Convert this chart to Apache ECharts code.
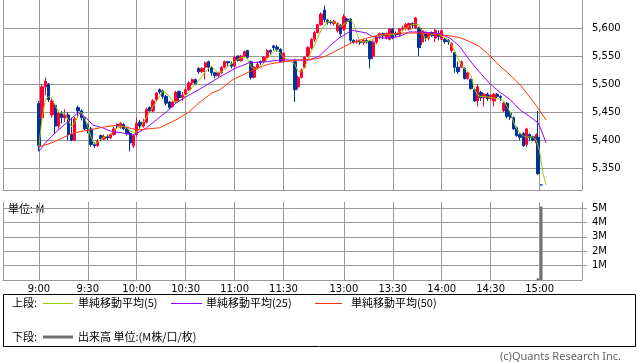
<!DOCTYPE html>
<html><head><meta charset="utf-8">
<script src="https://cdn.jsdelivr.net/npm/echarts@6/dist/echarts.min.js"></script>
<style>html,body{margin:0;padding:0;background:#fff}#c{width:638px;height:362px}</style>
</head><body><div id="c"></div>
<script>
// ---- tick labels ----
const tickLabels = ['9:00','9:30','10:00','10:30','11:00','11:30','13:00','13:30','14:00','14:30','15:00'];
const priceTicks = [5350,5400,5450,5500,5550,5600];
const volumeTicks = [1,2,3,4,5];

// ---- categories (1-minute slots) ----
const categories = [];
function pushRange(h0,m0,h1,m1){for(let t=h0*60+m0;t<=h1*60+m1;t++){categories.push(Math.floor(t/60)+':'+String(t%60).padStart(2,'0'));}}
pushRange(8,38,11,30);
for(let i=1;i<=6;i++) categories.push('lunch'+i);
pushRange(12,30,15,26);

// ---- candles: [time, open, close, low, high] ----
const candles = [
['9:00',5465,5390,5380,5470],['9:02',5440,5495,5430,5500],['9:04',5495,5505,5480,5512],['9:06',5500,5472,5468,5502],
['9:08',5445,5470,5440,5475],['9:10',5462,5425,5412,5465],['9:12',5425,5448,5420,5452],['9:14',5448,5440,5430,5452],
['9:16',5440,5445,5432,5455],['9:18',5445,5410,5400,5450],['9:20',5410,5400,5398,5440],['9:22',5400,5438,5398,5442],
['9:24',5458,5452,5440,5462],['9:26',5452,5440,5435,5455],['9:28',5440,5420,5418,5442],['9:30',5428,5420,5412,5430],
['9:32',5420,5392,5388,5424],['9:34',5392,5390,5386,5396],['9:36',5390,5398,5388,5402],['9:38',5408,5402,5398,5410],
['9:40',5402,5406,5400,5410],['9:42',5406,5404,5400,5410],['9:44',5404,5410,5402,5412],['9:46',5410,5420,5408,5424],
['9:48',5428,5425,5420,5430],['9:50',5423,5430,5420,5432],['9:52',5428,5420,5418,5430],['9:54',5420,5412,5408,5422],
['9:56',5412,5395,5380,5415],['9:58',5390,5408,5386,5410],['10:00',5410,5430,5406,5440],['10:02',5432,5425,5420,5436],
['10:04',5425,5432,5422,5438],['10:06',5432,5455,5430,5458],['10:08',5458,5452,5448,5460],['10:10',5452,5470,5450,5473],
['10:12',5472,5484,5470,5486],['10:14',5490,5486,5482,5492],['10:16',5488,5478,5474,5490],['10:18',5478,5466,5462,5480],
['10:20',5468,5458,5456,5470],['10:22',5460,5468,5458,5470],['10:24',5468,5485,5466,5488],['10:26',5487,5476,5470,5488],
['10:28',5476,5480,5470,5486],['10:30',5482,5490,5478,5494],['10:32',5490,5502,5488,5505],['10:34',5502,5508,5498,5510],
['10:36',5508,5500,5498,5510],['10:38',5528,5522,5518,5530],['10:40',5522,5528,5520,5530],['10:42',5530,5538,5508,5540],
['10:44',5540,5530,5522,5542],['10:46',5530,5520,5515,5532],['10:48',5520,5515,5510,5522],['10:50',5515,5520,5512,5522],
['10:52',5520,5530,5518,5532],['10:54',5530,5540,5528,5542],['10:56',5540,5538,5532,5541],['10:58',5536,5532,5528,5540],
['11:00',5532,5548,5527,5551],['11:02',5550,5542,5540,5551],['11:04',5542,5550,5540,5552],['11:06',5550,5558,5548,5560],
['11:08',5560,5548,5545,5561],['11:10',5540,5512,5508,5542],['11:12',5512,5530,5510,5532],['11:14',5530,5535,5526,5540],
['11:16',5540,5538,5534,5542],['11:18',5540,5548,5536,5550],['11:20',5548,5560,5546,5562],['11:22',5560,5557,5552,5562],
['11:24',5568,5565,5560,5570],['11:26',5566,5562,5558,5570],['11:28',5562,5540,5538,5564],['11:30',5540,5555,5538,5556],
['12:30',5540,5490,5468,5545],['12:32',5495,5512,5490,5515],['12:34',5512,5525,5510,5528],['12:36',5530,5548,5528,5550],
['12:38',5550,5565,5548,5568],['12:40',5565,5580,5562,5582],['12:42',5580,5592,5575,5595],['12:44',5592,5606,5590,5608],
['12:46',5606,5625,5604,5628],['12:48',5632,5615,5610,5640],['12:50',5614,5610,5606,5616],['12:52',5612,5610,5606,5614],
['12:54',5608,5612,5604,5615],['12:56',5595,5608,5592,5610],['12:58',5605,5590,5585,5607],['13:00',5598,5620,5595,5625],
['13:02',5616,5612,5608,5618],['13:04',5616,5578,5574,5618],['13:06',5578,5575,5572,5580],['13:08',5575,5576,5572,5580],
['13:10',5576,5574,5570,5579],['13:12',5574,5578,5570,5580],['13:14',5578,5575,5572,5580],['13:16',5576,5545,5528,5578],
['13:18',5550,5575,5545,5578],['13:20',5575,5585,5572,5587],['13:22',5585,5590,5580,5592],['13:24',5590,5586,5580,5592],
['13:26',5582,5590,5580,5592],['13:28',5580,5598,5578,5600],['13:30',5598,5582,5580,5600],['13:32',5590,5588,5584,5594],
['13:34',5588,5598,5586,5600],['13:36',5598,5600,5594,5604],['13:38',5600,5606,5596,5609],['13:40',5598,5608,5596,5610],
['13:42',5608,5605,5600,5610],['13:44',5600,5618,5598,5620],['13:46',5600,5565,5550,5602],['13:48',5575,5595,5570,5600],
['13:50',5592,5582,5576,5594],['13:52',5582,5590,5578,5592],['13:54',5592,5586,5584,5594],['13:56',5582,5596,5575,5598],
['13:58',5590,5585,5578,5596],['14:00',5580,5595,5578,5598],['14:02',5580,5576,5572,5582],['14:04',5578,5575,5570,5580],
['14:06',5560,5572,5556,5575],['14:08',5556,5530,5520,5558],['14:10',5530,5522,5518,5540],['14:12',5530,5540,5528,5542],
['14:14',5528,5510,5508,5530],['14:16',5510,5520,5508,5522],['14:18',5508,5492,5490,5510],['14:20',5490,5470,5468,5492],
['14:22',5470,5495,5460,5500],['14:24',5485,5476,5470,5488],['14:26',5476,5482,5460,5484],['14:28',5482,5474,5470,5485],
['14:30',5474,5480,5470,5482],['14:32',5470,5482,5460,5484],['14:34',5482,5478,5474,5484],['14:36',5478,5476,5470,5480],
['14:38',5452,5466,5450,5468],['14:40',5466,5442,5439,5468],['14:42',5448,5440,5436,5452],['14:44',5440,5420,5418,5442],
['14:46',5422,5408,5406,5424],['14:48',5410,5405,5400,5412],['14:50',5412,5390,5388,5414],['14:52',5392,5420,5388,5422],
['14:54',5410,5404,5398,5412],['14:56',5406,5400,5398,5408],['14:58',5395,5410,5392,5412],['14:59',5405,5340,5338,5452],
['15:01',5320,5320,5320,5321]
];

// ---- moving averages: [time, value] ----
const ma5 = [
['9:00',5389],['9:02',5440],['9:04',5472],['9:06',5478],['9:08',5474],['9:10',5462],['9:12',5450],['9:14',5448],
['9:16',5447],['9:18',5436],['9:20',5424],['9:22',5432],['9:24',5443],['9:26',5450],['9:28',5440],['9:30',5424],
['9:32',5405],['9:34',5393],['9:36',5395],['9:38',5402],['9:40',5405],['9:42',5408],['9:44',5411],['9:46',5416],
['9:48',5422],['9:50',5424],['9:52',5424],['9:54',5422],['9:56',5416],['9:58',5414],['10:00',5415],['10:02',5422],
['10:04',5432],['10:06',5441],['10:08',5450],['10:10',5460],['10:12',5468],['10:14',5478],['10:16',5488],['10:18',5484],
['10:20',5478],['10:22',5470],['10:24',5468],['10:26',5470],['10:28',5474],['10:30',5480],['10:32',5486],['10:34',5494],
['10:36',5500],['10:38',5506],['10:40',5514],['10:42',5522],['10:44',5528],['10:46',5531],['10:48',5526],['10:50',5520],
['10:52',5522],['10:54',5526],['10:56',5532],['10:58',5536],['11:00',5540],['11:02',5544],['11:04',5547],['11:06',5548],
['11:08',5545],['11:10',5531],['11:12',5526],['11:14',5527],['11:16',5532],['11:18',5538],['11:20',5545],['11:22',5552],
['11:24',5558],['11:26',5561],['11:28',5555],['11:30',5548],
['12:30',5535],['12:32',5522],['12:34',5522],['12:36',5530],['12:38',5545],['12:40',5558],['12:42',5570],['12:44',5583],
['12:46',5596],['12:48',5604],['12:50',5611],['12:52',5612],['12:54',5610],['12:56',5607],['12:58',5602],['13:00',5606],
['13:02',5612],['13:04',5615],['13:06',5608],['13:08',5590],['13:10',5576],['13:12',5575],['13:14',5576],['13:16',5578],
['13:18',5580],['13:20',5584],['13:22',5586],['13:24',5588],['13:26',5588],['13:28',5588],['13:30',5588],['13:32',5590],
['13:34',5593],['13:36',5596],['13:38',5600],['13:40',5603],['13:42',5606],['13:44',5607],['13:46',5606],['13:48',5593],
['13:50',5580],['13:52',5584],['13:54',5588],['13:56',5590],['13:58',5588],['14:00',5586],['14:02',5582],['14:04',5578],
['14:06',5570],['14:08',5558],['14:10',5545],['14:12',5535],['14:14',5527],['14:16',5523],['14:18',5515],['14:20',5492],
['14:22',5480],['14:24',5478],['14:26',5478],['14:28',5477],['14:30',5476],['14:32',5475],['14:34',5474],['14:36',5473],
['14:38',5470],['14:40',5460],['14:42',5450],['14:44',5432],['14:46',5420],['14:48',5413],['14:50',5408],['14:52',5405],
['14:54',5406],['14:56',5405],['14:58',5400],['15:00',5380],['15:02',5342],['15:04',5320]
];
const ma25 = [
['9:00',5380],['9:04',5395],['9:10',5413],['9:17',5431],['9:24',5449],['9:29',5440],['9:33',5427],['9:39',5422],
['9:45',5415],['9:51',5413],['9:57',5409],['10:00',5412],['10:06',5422],['10:12',5436],['10:18',5450],['10:24',5466],
['10:30',5477],['10:38',5490],['10:45',5502],['10:51',5513],['11:01',5529],['11:09',5538],['11:20',5540],['11:28',5543],
['12:31',5543],['12:39',5543],['12:45',5550],['12:51',5567],['12:57',5582],['13:05',5596],['13:14',5591],['13:18',5584],
['13:26',5582],['13:34',5585],['13:40',5593],['13:46',5593],['13:52',5592],['13:59',5590],['14:05',5582],['14:11',5567],
['14:17',5543],['14:23',5522],['14:29',5502],['14:35',5487],['14:42',5472],['14:48',5454],['14:54',5442],['14:59',5431],
['15:01',5418],['15:04',5395]
];
const ma50 = [
['9:00',5388],['9:08',5395],['9:21',5413],['9:31',5418],['9:41',5424],['9:49',5427],['10:00',5418],['10:14',5422],
['10:24',5436],['10:32',5450],['10:38',5466],['10:46',5484],['10:51',5490],['10:59',5508],['11:09',5522],['11:20',5535],
['11:30',5540],['12:33',5543],['12:43',5545],['12:49',5550],['12:57',5562],['13:05',5574],['13:14',5582],['13:22',5588],
['13:34',5591],['13:46',5591],['13:59',5588],['14:05',5586],['14:11',5583],['14:17',5576],['14:23',5567],['14:29',5552],
['14:35',5534],['14:42',5516],['14:48',5499],['14:54',5477],['14:59',5457],['15:04',5436]
];
// ---- volume (M) ----
const volume = [['14:59',0.12],['15:01',5.1]];

const idx = t => categories.indexOf(t);
const gridColor = '#999';
const numFont = 'DejaVu Sans';
const jpFont = 'Noto Sans CJK JP';
const isTick = (i, v) => i === 0 || i === categories.length - 1 || tickLabels.indexOf(v) >= 0;

const chart = echarts.init(document.getElementById('c'), null, {renderer: 'canvas'});
const xBase = {
  type: 'category', data: categories, boundaryGap: false,
  axisLine: {show: true, lineStyle: {color: gridColor}},
  axisTick: {show: false},
  splitLine: {show: true, interval: isTick, lineStyle: {color: gridColor, width: 1}}
};
const jpText = (x, y, text) => ({type: 'text', x: x, y: y, style: {text: text, font: '11px "' + jpFont + '"', fill: '#000', verticalAlign: 'middle'}});
const legendLine = (x1, x2, y, color, w) => ({type: 'rect', shape: {x: x1, y: y - w / 2, width: x2 - x1, height: w}, style: {fill: color, stroke: null}});
chart.setOption({
  animation: false,
  grid: [
    {left: 3, right: 56, top: 0, height: 190},
    {left: 3, right: 56, top: 202, height: 78}
  ],
  xAxis: [
    Object.assign({}, xBase, {gridIndex: 0, axisLabel: {show: false}}),
    Object.assign({}, xBase, {gridIndex: 1, axisLabel: {show: true, interval: (i, v) => tickLabels.indexOf(v) >= 0,
      color: '#000', fontFamily: numFont, fontSize: 10, margin: 4}})
  ],
  yAxis: [
    {type: 'value', gridIndex: 0, position: 'right', min: 5311, max: 5650, minInterval: 50, maxInterval: 50,
     axisLine: {show: false}, axisTick: {show: false, customValues: priceTicks},
     axisLabel: {customValues: priceTicks, margin: 10, color: '#000',
       fontFamily: numFont, fontSize: 10, formatter: v => v.toLocaleString('en-US')},
     splitLine: {show: true, lineStyle: {color: gridColor}}},
    {type: 'value', gridIndex: 1, position: 'right', min: 0, max: 5.42, minInterval: 1, maxInterval: 1,
     axisLine: {show: false}, axisTick: {show: true, length: 5, inside: false, customValues: volumeTicks, lineStyle: {color: gridColor}},
     axisLabel: {customValues: volumeTicks, margin: 10, color: '#000',
       fontFamily: numFont, fontSize: 10, formatter: v => v + 'M'},
     splitLine: {show: true, lineStyle: {color: gridColor}}}
  ],
  series: [
    {type: 'candlestick', xAxisIndex: 0, yAxisIndex: 0, z: 2, barWidth: 2.8,
     encode: {x: 0, y: [1, 2, 3, 4]},
     data: candles.map(r => [idx(r[0]), r[1], r[2], r[3], r[4]]),
     itemStyle: {color: '#ff0033', color0: '#003399', borderColor: '#ff0033', borderColor0: '#003399', borderColorDoji: '#003399', borderWidth: 1}},
    {type: 'line', name: 'MA5', xAxisIndex: 0, yAxisIndex: 0, z: 3, showSymbol: false, smooth: false,
     data: ma5.map(r => [idx(r[0]), r[1]]), lineStyle: {color: '#99cc00', width: 1}},
    {type: 'line', name: 'MA25', xAxisIndex: 0, yAxisIndex: 0, z: 3, showSymbol: false,
     data: ma25.map(r => [idx(r[0]), r[1]]), lineStyle: {color: '#9900ff', width: 1}},
    {type: 'line', name: 'MA50', xAxisIndex: 0, yAxisIndex: 0, z: 3, showSymbol: false,
     data: ma50.map(r => [idx(r[0]), r[1]]), lineStyle: {color: '#ff3300', width: 1}},
    {type: 'bar', xAxisIndex: 1, yAxisIndex: 1, barWidth: 2.6, z: 2,
     data: volume.map(r => [idx(r[0]), r[1]]), itemStyle: {color: '#707070'}}
  ],
  graphic: [
    {type: 'text', left: 8, top: 203, style: {text: '単位: M', font: '11px "' + jpFont + '"', fill: '#000'}},
    {type: 'rect', shape: {x: 3.5, y: 294.5, width: 632, height: 52}, style: {fill: 'none', stroke: '#000', lineWidth: 1}},
    jpText(12, 303, '上段:'),
    legendLine(43, 73, 303.5, '#99cc00', 1),
    jpText(78, 303, '単純移動平均(5)'),
    legendLine(171, 202, 303.5, '#9900ff', 1),
    jpText(206, 303, '単純移動平均(25)'),
    legendLine(315, 342, 303.5, '#ff3300', 1),
    jpText(351, 303, '単純移動平均(50)'),
    jpText(12, 337, '下段:'),
    legendLine(43, 73, 337, '#707070', 3),
    jpText(78, 337, '出来高 単位:(M株/口/枚)'),
    {type: 'text', x: 500, y: 357, style: {text: '(c)Quants Research Inc.', font: '11px "Noto Sans"', fill: '#666', verticalAlign: 'middle'}}
  ]
});
</script></body></html>
